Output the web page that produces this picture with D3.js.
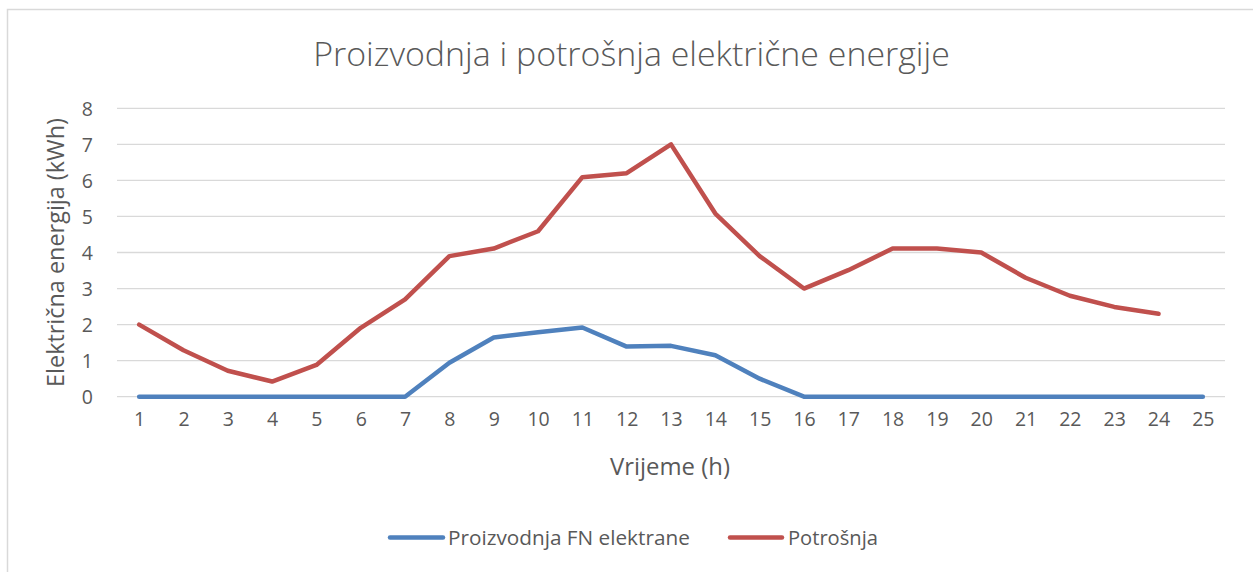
<!DOCTYPE html>
<html>
<head>
<meta charset="utf-8">
<script src="https://cdn.jsdelivr.net/npm/d3@7"></script>
<style>
  html, body { margin: 0; padding: 0; background: #fff; }
  svg { display: block; font-family: "Open Sans", sans-serif; }
</style>
</head>
<body>
<svg id="chart" width="1253" height="572"></svg>
<script>
const hours = d3.range(1, 26).map(String);
const yTicks = [0, 1, 2, 3, 4, 5, 6, 7, 8];
const proizvodnja = [0, 0, 0, 0, 0, 0, 0, 0.94, 1.64, 1.79, 1.92, 1.39, 1.41, 1.15, 0.5, 0, 0, 0, 0, 0, 0, 0, 0, 0, 0];
const potrosnja = [2.0, 1.29, 0.72, 0.42, 0.88, 1.91, 2.7, 3.9, 4.11, 4.59, 6.09, 6.2, 7.0, 5.08, 3.9, 3.0, 3.51, 4.11, 4.11, 4.0, 3.3, 2.8, 2.49, 2.3, null];
const seriesNames = ["Proizvodnja FN elektrane", "Potrošnja"];
const seriesColors = ["#4f81bd", "#c0504d"];
const title = "Proizvodnja i potrošnja električne energije";
const xTitle = "Vrijeme (h)";
const yTitle = "Električna energija (kWh)";

const svg = d3.select("#chart");
const textColor = "#595959";

// chart frame
svg.append("path")
  .attr("d", "M7.5,575 V9.5 H1260")
  .attr("fill", "none").attr("stroke", "#d9d9d9").attr("stroke-width", 1.5);

const x = d3.scalePoint().domain(hours).range([117, 1225]).padding(0.5);
const y = d3.scaleLinear().domain([0, 8]).range([396.7, 108.3]);

function fit(sel, target) {
  const w = sel.node().getComputedTextLength();
  const fs = parseFloat(sel.attr("font-size"));
  sel.attr("font-size", fs * target / w);
}

// gridlines
svg.append("g").selectAll("line").data(yTicks).join("line")
  .attr("x1", 117).attr("x2", 1225)
  .attr("y1", d => y(d)).attr("y2", d => y(d))
  .attr("stroke", "#d9d9d9").attr("stroke-width", 1.3);

// y axis
const yAxis = svg.append("g").attr("transform", "translate(93,0)")
  .call(d3.axisLeft(y).tickValues(yTicks).tickSize(0).tickPadding(0).tickFormat(d3.format("d")));
yAxis.select(".domain").remove();
yAxis.selectAll("text").attr("font-size", 19.5).attr("fill", textColor)
  .attr("font-family", "Open Sans, sans-serif").attr("dy", "0.35em");

// x axis
const xAxis = svg.append("g").attr("transform", "translate(0,412)")
  .call(d3.axisBottom(x).tickSize(0).tickPadding(0));
xAxis.select(".domain").remove();
xAxis.selectAll("text").attr("font-size", 19.5).attr("fill", textColor)
  .attr("font-family", "Open Sans, sans-serif").attr("dy", "0.71em");

// lines
const line = d3.line().defined(d => d.v != null).x(d => x(d.h)).y(d => y(d.v));
[proizvodnja, potrosnja].forEach((vals, i) => {
  svg.append("path")
    .datum(vals.map((v, j) => ({ h: hours[j], v })))
    .attr("d", line)
    .attr("fill", "none")
    .attr("stroke", seriesColors[i])
    .attr("stroke-width", 4.5)
    .attr("stroke-linejoin", "round")
    .attr("stroke-linecap", "round");
});

// title
const t = svg.append("text").attr("x", 631.5).attr("y", 66).attr("text-anchor", "middle")
  .attr("font-size", 30).attr("fill", textColor).attr("font-weight", 300).text(title);
fit(t, 637);

// axis titles
const xt = svg.append("text").attr("x", 670).attr("y", 475).attr("text-anchor", "middle")
  .attr("font-size", 20).attr("fill", textColor).text(xTitle);
fit(xt, 120);

const yt = svg.append("text").attr("transform", "translate(64,252.5) rotate(-90)")
  .attr("text-anchor", "middle").attr("font-size", 20).attr("fill", textColor).text(yTitle);
fit(yt, 269);

// legend
const legend = [
  { x1: 390, x2: 443, tx: 448, w: 242 },
  { x1: 730, x2: 782, tx: 788, w: 90 }
];
legend.forEach((l, i) => {
  svg.append("line").attr("x1", l.x1).attr("x2", l.x2).attr("y1", 537.5).attr("y2", 537.5)
    .attr("stroke", seriesColors[i]).attr("stroke-width", 4.5).attr("stroke-linecap", "round");
  const lt = svg.append("text").attr("x", l.tx).attr("y", 545).attr("font-size", 19)
    .attr("fill", textColor).text(seriesNames[i]);
  fit(lt, l.w);
});
</script>
</body>
</html>
